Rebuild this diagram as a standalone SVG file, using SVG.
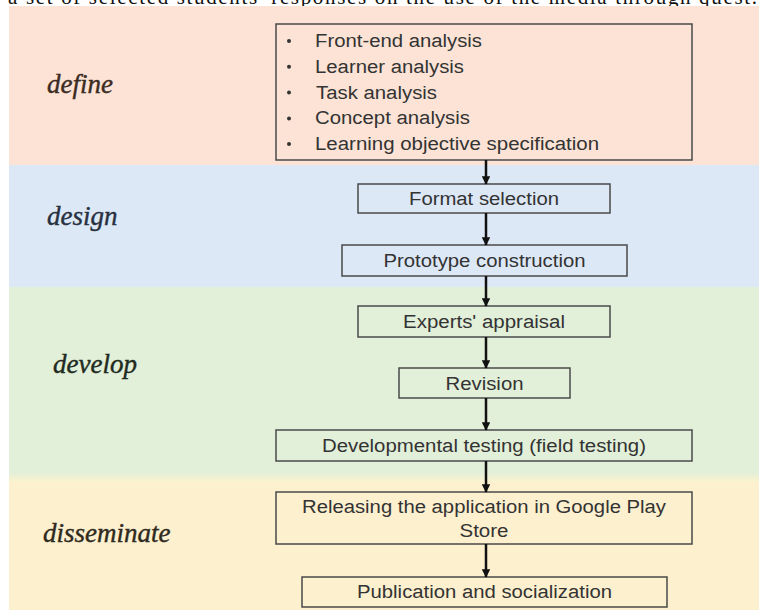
<svg xmlns="http://www.w3.org/2000/svg" width="759" height="610" viewBox="0 0 759 610">
<style>
.box{fill:none;stroke:#4a4a4a;stroke-width:1.5}
.t{font-family:"Liberation Sans",Arial,sans-serif;font-size:18px;fill:#333;text-anchor:middle}
.li{font-family:"Liberation Sans",Arial,sans-serif;font-size:18px;fill:#333}
.stage{font-family:"Liberation Serif","Times New Roman",serif;font-style:italic;font-size:27px;stroke-width:0.4}
.arr{stroke:#111;stroke-width:2.5;fill:none;marker-end:url(#ah)}
</style>
<defs>
<marker id="ah" viewBox="0 0 10 10" refX="9" refY="5" markerWidth="3.4" markerHeight="3.4" orient="auto" markerUnits="strokeWidth">
<path d="M0,0 L10,5 L0,10 z" fill="#111"/>
</marker>
<linearGradient id="trans" x1="0" y1="0" x2="0" y2="1">
<stop offset="0" stop-color="#e2efd9"/>
<stop offset="1" stop-color="#fbf3cf"/>
</linearGradient>
</defs>
<rect width="759" height="610" fill="#fff"/>
<text x="8" y="4" font-family="Liberation Serif,'Times New Roman',serif" font-size="21" fill="#111" textLength="749" lengthAdjust="spacing">a set of selected students' responses on the use of the media through quest.</text>
<g id="bands">
<rect x="9" y="6" width="750" height="159" fill="#fce3d6"/>
<rect x="9" y="165" width="750" height="122" fill="#dde8f6"/>
<rect x="9" y="287" width="750" height="185" fill="#e2efd9"/>
<rect x="9" y="472" width="750" height="10" fill="url(#trans)"/>
<rect x="9" y="482" width="750" height="128" fill="#fdf0cf"/>
</g>
<g id="stage-labels">
<text class="stage" x="47" y="93" fill="#3b2b22" stroke="#3b2b22">define</text>
<text class="stage" x="47" y="225" fill="#27303f" stroke="#27303f">design</text>
<text class="stage" x="53" y="373" fill="#1f2b20" stroke="#1f2b20">develop</text>
<text class="stage" x="43" y="542" fill="#2f2a20" stroke="#2f2a20">disseminate</text>
</g>
<g id="define-tasks">
<rect class="box" x="276" y="24" width="416" height="136"/>
<g fill="#333">
<circle cx="289" cy="41" r="2"/>
<circle cx="289" cy="66.8" r="2"/>
<circle cx="289" cy="92.6" r="2"/>
<circle cx="289" cy="118.4" r="2"/>
<circle cx="289" cy="144" r="2"/>
</g>
<text class="li" x="315" y="47" textLength="167" lengthAdjust="spacingAndGlyphs">Front-end analysis</text>
<text class="li" x="315" y="72.8" textLength="149" lengthAdjust="spacingAndGlyphs">Learner analysis</text>
<text class="li" x="316" y="98.6" textLength="121" lengthAdjust="spacingAndGlyphs">Task analysis</text>
<text class="li" x="315" y="124.4" textLength="155" lengthAdjust="spacingAndGlyphs">Concept analysis</text>
<text class="li" x="315" y="150" textLength="284" lengthAdjust="spacingAndGlyphs">Learning objective specification</text>
</g>
<g id="format-selection">
<rect class="box" x="358" y="184" width="252" height="29"/>
<text class="t" x="484" y="205" textLength="150" lengthAdjust="spacingAndGlyphs">Format selection</text>
</g>
<g id="prototype-construction">
<rect class="box" x="342" y="245" width="285" height="31"/>
<text class="t" x="484.5" y="267" textLength="202" lengthAdjust="spacingAndGlyphs">Prototype construction</text>
</g>
<g id="experts-appraisal">
<rect class="box" x="358" y="306" width="252" height="31"/>
<text class="t" x="484" y="328" textLength="162" lengthAdjust="spacingAndGlyphs">Experts' appraisal</text>
</g>
<g id="revision">
<rect class="box" x="399" y="368" width="171" height="30"/>
<text class="t" x="484.5" y="389.5" textLength="78" lengthAdjust="spacingAndGlyphs">Revision</text>
</g>
<g id="developmental-testing">
<rect class="box" x="276" y="430" width="416" height="31"/>
<text class="t" x="484" y="452" textLength="324" lengthAdjust="spacingAndGlyphs">Developmental testing (field testing)</text>
</g>
<g id="releasing">
<rect class="box" x="276" y="492" width="416" height="52"/>
<text class="t" x="484" y="513" textLength="364" lengthAdjust="spacingAndGlyphs">Releasing the application in Google Play</text>
<text class="t" x="484" y="537" textLength="49" lengthAdjust="spacingAndGlyphs">Store</text>
</g>
<g id="publication">
<rect class="box" x="302" y="577" width="365" height="30"/>
<text class="t" x="484.5" y="598" textLength="255" lengthAdjust="spacingAndGlyphs">Publication and socialization</text>
</g>
<g id="connectors">
<line class="arr" x1="486" y1="160" x2="486" y2="184"/>
<line class="arr" x1="486" y1="213" x2="486" y2="245"/>
<line class="arr" x1="486" y1="276" x2="486" y2="306"/>
<line class="arr" x1="486" y1="337" x2="486" y2="368"/>
<line class="arr" x1="486" y1="398" x2="486" y2="430"/>
<line class="arr" x1="486" y1="461" x2="486" y2="492"/>
<line class="arr" x1="486" y1="544" x2="486" y2="577"/>
</g>
</svg>
